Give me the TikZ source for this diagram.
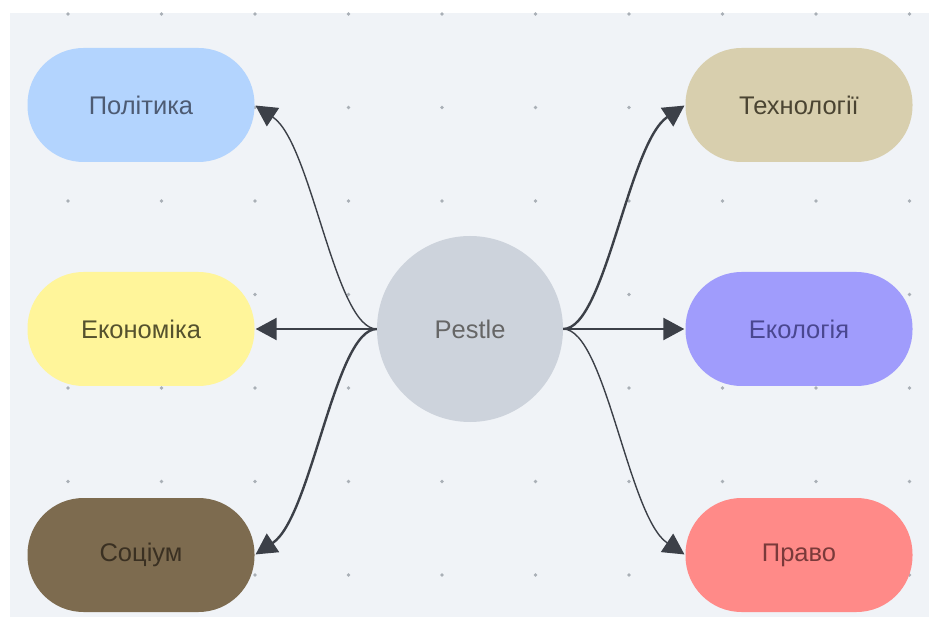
\documentclass[tikz,border=0pt]{standalone}
\usepackage{fontspec}
\setmainfont{Liberation Sans}
\usetikzlibrary{arrows.meta}

\definecolor{paper}{HTML}{F0F3F7}
\definecolor{dotgray}{HTML}{A9AFB6}
\definecolor{linkgray}{HTML}{3C4048}
\definecolor{hubfill}{HTML}{CDD3DC}
\definecolor{polfill}{HTML}{B3D4FE}
\definecolor{poltext}{HTML}{4D5B73}
\definecolor{ecofill}{HTML}{FFF59A}
\definecolor{ecotext}{HTML}{55522E}
\definecolor{socfill}{HTML}{7D6B4F}
\definecolor{soctext}{HTML}{3A3022}
\definecolor{techfill}{HTML}{D8CFAE}
\definecolor{techtext}{HTML}{4A4432}
\definecolor{envfill}{HTML}{A09CFC}
\definecolor{envtext}{HTML}{4A4790}
\definecolor{lawfill}{HTML}{FF8A88}
\definecolor{lawtext}{HTML}{7A3A3A}

\begin{document}
\begin{tikzpicture}[x=1pt,y=1pt,
    pill/.style={rectangle, rounded corners=56pt, minimum width=227pt,
      minimum height=114pt, inner sep=0pt, font=\fontsize{25.5}{30}\selectfont},
    link/.style={draw=linkgray, line width=1.4pt,
      -{Triangle[length=21pt,width=22pt]}, shorten >=1pt},
    boldlink/.style={link, line width=2.4pt}]
        \useasboundingbox (0,0) rectangle (929,-617);
        \fill[white] (0,0) rectangle (929,-617);
        \fill[paper] (10,-13) rectangle (929,-617);

         % dot grid
        \foreach \gx in {0,...,9}
          \foreach \gy in {0,...,6}
            \fill[dotgray] (68+93.5*\gx,-14-93.5*\gy) circle (1.8);

         % hub
        \node[circle, minimum size=186pt, inner sep=0pt, fill=hubfill,
          text=black!60, font=\fontsize{25.5}{30}\selectfont] (hub) at (470,-329) {Pestle};

         % left side
        \node[pill, fill=polfill, text=poltext] (pol) at (141,-105) {Політика};
        \node[pill, fill=ecofill, text=ecotext] (eco) at (141,-329) {Економіка};
        \node[pill, fill=socfill, text=soctext] (soc) at (141,-555) {Соціум};

         % right side
        \node[pill, fill=techfill, text=techtext] (tech) at (799,-105) {Технології};
        \node[pill, fill=envfill, text=envtext] (env) at (799,-329) {Екологія};
        \node[pill, fill=lawfill, text=lawtext] (law) at (799,-555) {Право};

         % links
        \draw[link] (hub.west) .. controls +(-42,0) and +(57,-38) .. (pol.east);
        \draw[boldlink] (hub.west) -- (eco.east);
        \draw[boldlink] (hub.west) .. controls +(-42,0) and +(57,38) .. (soc.east);
        \draw[boldlink] (hub.east) .. controls +(42,0) and +(-57,-38) .. (tech.west);
        \draw[boldlink] (hub.east) -- (env.west);
        \draw[link] (hub.east) .. controls +(42,0) and +(-57,38) .. (law.west);
\end{tikzpicture}
\end{document}
